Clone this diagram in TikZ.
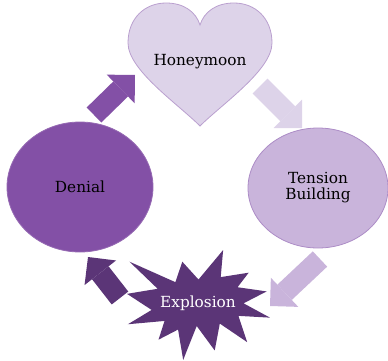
\documentclass[tikz,border=0pt]{standalone}
\usepackage{fontspec}
\setmainfont{DejaVu Serif}
\usetikzlibrary{shapes.geometric,arrows.meta}
\definecolor{honfill}{RGB}{221,211,233}
\definecolor{honline}{RGB}{186,160,207}
\definecolor{tenfill}{RGB}{201,180,219}
\definecolor{tenline}{RGB}{172,140,198}
\definecolor{denfill}{RGB}{131,80,166}
\definecolor{expfill}{RGB}{91,53,119}

\begin{document}
\begin{tikzpicture}[x=1pt, y=1pt,
    txt/.style={font=\fontsize{15.3}{16}\selectfont, align=center},
    bubble/.style={ellipse, line width=0.8pt, inner sep=0pt},
    blockarrow/.style={line width=21pt, -{Triangle[width=40pt, length=20pt, line width=0pt]}}]
    \useasboundingbox (0,0) rectangle (388,360);

    \coordinate (Hon) at (200,298);
    \coordinate (Ten) at (318,172);
    \coordinate (Exp) at (198,57);
    \coordinate (Den) at (80,173);

    \coordinate (DenOut) at (94,245);
    \coordinate (HonIn) at (135,285);
    \coordinate (HonOut) at (260,274);
    \coordinate (TenIn) at (302,232);
    \coordinate (TenOut) at (320,101);
    \coordinate (ExpIn) at (270,54);
    \coordinate (ExpOut) at (120,62);
    \coordinate (DenIn) at (88,103);

    \draw[honline, fill=honfill, line width=0.8pt] (200,234)
        .. controls (178,256) and (128,290) .. (128,317)
        .. controls (128,342) and (145,357) .. (166,357)
        .. controls (184,357) and (196,348) .. (200,335)
        .. controls (204,348) and (216,357) .. (234,357)
        .. controls (255,357) and (272,342) .. (272,317)
        .. controls (272,290) and (222,256) .. (200,234) -- cycle;

    \begin{scope}[xshift=127pt, yshift=110pt, x=6.62pt, y=-5.09pt]
        \fill[expfill] (10.8,5.8) -- (14.522,0) -- (14.155,5.325) -- (18.38,4.457)
            -- (16.702,7.315) -- (21.097,8.137) -- (17.607,10.475) -- (21.6,13.29)
            -- (16.837,12.942) -- (18.145,18.095) -- (14.02,14.457) -- (13.247,19.737)
            -- (10.532,14.935) -- (8.485,21.6) -- (7.715,15.627) -- (4.762,17.617)
            -- (5.667,13.937) -- (0.135,14.587) -- (3.722,11.775) -- (0,8.615)
            -- (4.627,7.617) -- (0.37,2.295) -- (7.312,6.32) -- (8.352,2.295) -- cycle;
    \end{scope}

    \draw (Hon) node[txt] (hon) {Honeymoon};
    \draw (Den) node[bubble, fill=denfill, draw=denfill!85!white, minimum width=146pt, minimum height=130pt, txt] (den) {Denial};
    \draw (Ten) node[bubble, fill=tenfill, draw=tenline, minimum width=140pt, minimum height=120pt, txt] (ten) {Tension\\Building};
    \draw (Exp) node[txt, text=white] (exp) {Explosion};

    \draw[blockarrow, denfill] (DenOut) -- (HonIn);
    \draw[blockarrow, honfill] (HonOut) -- (TenIn);
    \draw[blockarrow, tenfill] (TenOut) -- (ExpIn);
    \draw[blockarrow, expfill] (ExpOut) -- (DenIn);

\end{tikzpicture}
\end{document}
